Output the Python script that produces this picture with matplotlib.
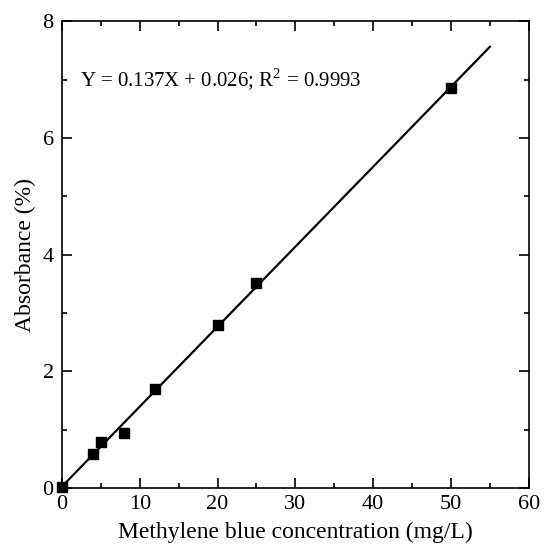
import matplotlib
matplotlib.use('Agg')
import matplotlib.pyplot as plt
from matplotlib.ticker import MultipleLocator
import numpy as np

plt.rcParams['font.family'] = ['Liberation Serif', 'DejaVu Serif']
plt.rcParams['mathtext.fontset'] = 'custom'
plt.rcParams['mathtext.rm'] = 'Liberation Serif'

conc = [0, 4, 5, 8, 12, 20, 25, 50]
absorb = [0.02, 0.59, 0.79, 0.94, 1.70, 2.80, 3.52, 6.85]
slope, intercept = 0.137, 0.026
fit_x = [0, 55]

fig = plt.figure(figsize=(5.44, 5.44), dpi=100)
ax = fig.add_axes([0.114, 0.103, 0.858, 0.858])

xs = np.array(fit_x)
ax.plot(xs, slope * xs + intercept, color='black', linewidth=1.6)
ax.plot(conc, absorb, 's', color='black', markersize=7.5, clip_on=False, zorder=3)

ax.set_xlim(0, 60)
ax.set_ylim(0, 8)
ax.xaxis.set_major_locator(MultipleLocator(10))
ax.xaxis.set_minor_locator(MultipleLocator(5))
ax.yaxis.set_major_locator(MultipleLocator(2))
ax.yaxis.set_minor_locator(MultipleLocator(1))
ax.tick_params(which='both', direction='in', top=True, right=True,
               labelsize=16, width=1.2)
ax.tick_params(which='major', length=7)
ax.tick_params(which='minor', length=3.5)
ax.tick_params(axis='x', pad=5)
ax.tick_params(axis='y', pad=6)
for sp in ax.spines.values():
    sp.set_linewidth(1.2)

ax.set_xlabel('Methylene blue concentration (mg/L)', fontsize=17, labelpad=6)
ax.set_ylabel('Absorbance (%)', fontsize=17, labelpad=5)
ax.text(2.3, 7.0, 'Y = 0.137X + 0.026; R$^2$ = 0.9993', fontsize=15,
        va='center', ha='left')

plt.savefig('out.png', dpi=100)
plt.close()
